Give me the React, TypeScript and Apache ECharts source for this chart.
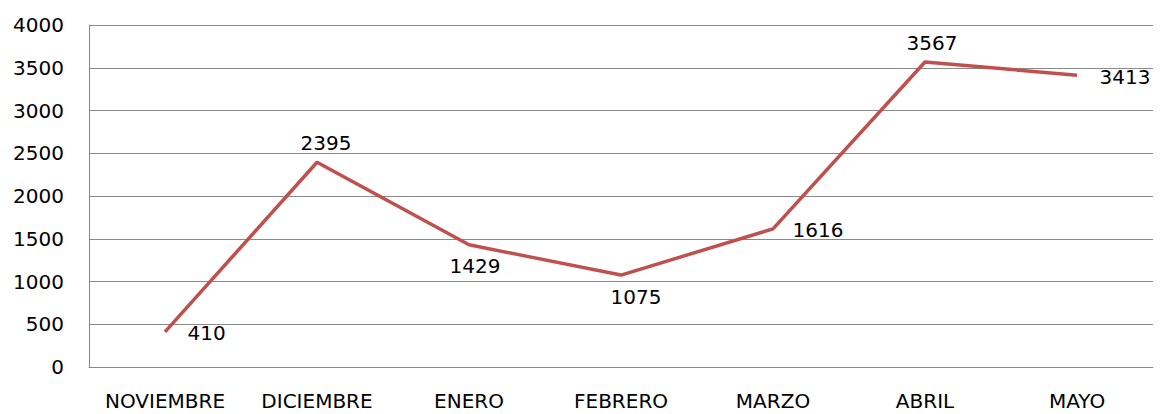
import React, { useEffect, useRef } from "react";
import * as echarts from "echarts";

const categories = ["NOVIEMBRE", "DICIEMBRE", "ENERO", "FEBRERO", "MARZO", "ABRIL", "MAYO"];
const values = [410, 2395, 1429, 1075, 1616, 3567, 3413];
const yTicks = { min: 0, max: 4000, interval: 500 };

const labelStyles: any[] = [
  { position: "right", distance: 22, offset: [0, 1] },
  { position: "top", distance: 9, offset: [9, 0] },
  { position: "bottom", distance: 11, offset: [6, 0] },
  { position: "bottom", distance: 11, offset: [15, 0] },
  { position: "right", distance: 19, offset: [0, 1] },
  { position: "top", distance: 9, offset: [7, 0] },
  { position: "right", distance: 22, offset: [0, 2] },
];

const FONT = "DejaVu Sans";
const FS = 20;

export default function App() {
  const ref = useRef<HTMLDivElement>(null);
  useEffect(() => {
    const chart = echarts.init(ref.current!, null, { renderer: "svg" });
    chart.setOption({
      animation: false,
      backgroundColor: "#ffffff",
      grid: { left: 89, right: 11, top: 25, bottom: 47, containLabel: false },
      xAxis: {
        type: "category",
        data: categories,
        boundaryGap: true,
        axisLine: { show: true, lineStyle: { color: "#8a8a8a", width: 1 } },
        axisTick: { show: false },
        axisLabel: { color: "#000", fontFamily: FONT, fontSize: FS, margin: 24, interval: 0 },
      },
      yAxis: {
        type: "value",
        min: yTicks.min,
        max: yTicks.max,
        interval: yTicks.interval,
        axisLine: { show: true, lineStyle: { color: "#8a8a8a", width: 1 } },
        axisTick: { show: false },
        axisLabel: {
          color: "#000",
          fontFamily: FONT,
          fontSize: FS,
          margin: 25,
          formatter: (v: number) => String(v),
        },
        splitLine: { show: true, lineStyle: { color: "#8a8a8a", width: 1 } },
      },
      series: [
        {
          type: "line",
          data: values.map((v, i) => ({
            value: v,
            label: {
              show: true,
              ...labelStyles[i],
              color: "#000",
              fontFamily: FONT,
              fontSize: FS,
            },
          })),
          showSymbol: true,
          symbol: "circle",
          symbolSize: 1,
          itemStyle: { color: "rgba(192,80,77,0)" },
          lineStyle: { color: "#c0504d", width: 3.5 },
          label: { show: true },
        },
      ],
    });
    return () => chart.dispose();
  }, []);
  return (
    <div
      ref={ref}
      style={{ position: "fixed", left: 0, top: 0, width: 1164, height: 414, background: "#fff" }}
    />
  );
}
